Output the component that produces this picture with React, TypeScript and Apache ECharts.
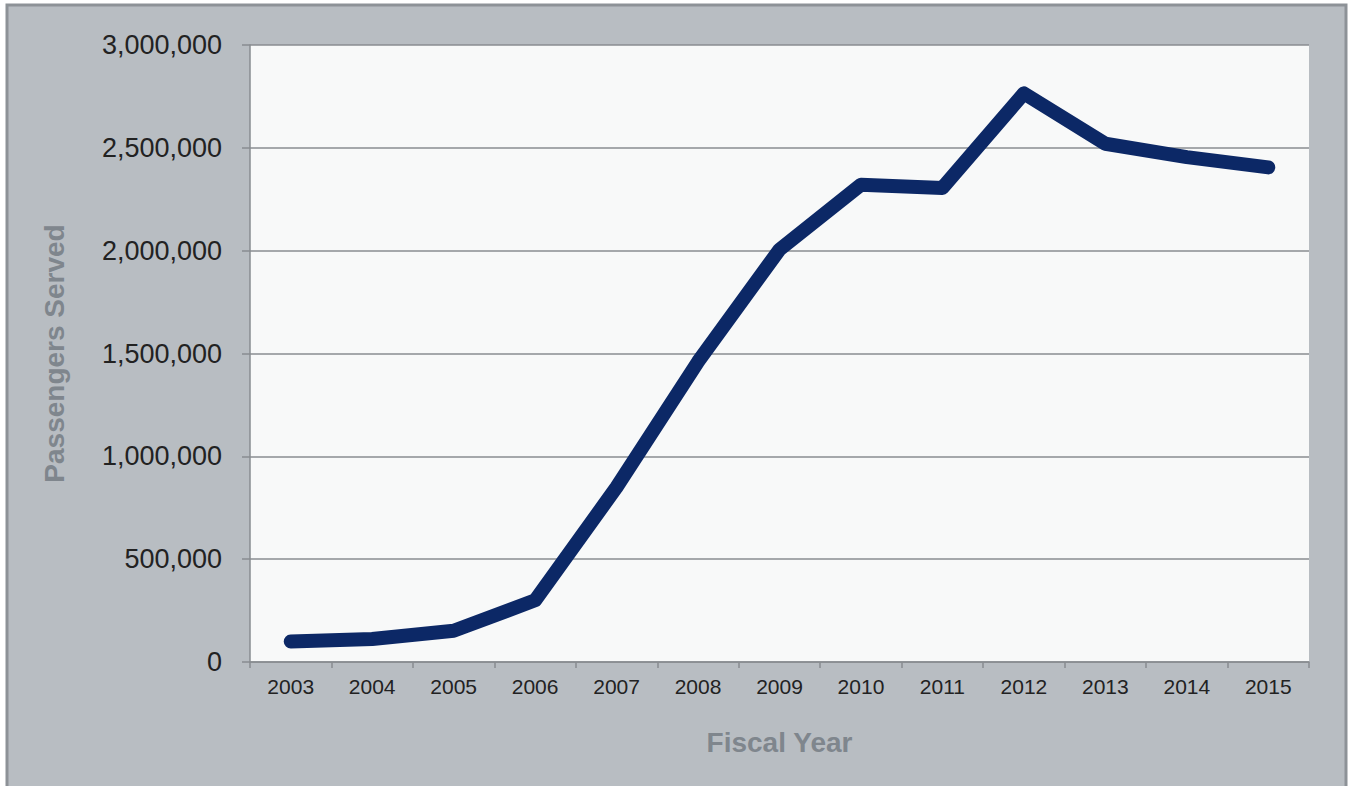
import React, { useEffect, useRef } from "react";
import * as echarts from "echarts";

const years = ["2003", "2004", "2005", "2006", "2007", "2008", "2009", "2010", "2011", "2012", "2013", "2014", "2015"];
const passengers = [100000, 112000, 152000, 300000, 850000, 1460000, 2005000, 2320000, 2305000, 2765000, 2520000, 2455000, 2405000];
const yTicks = { min: 0, max: 3000000, interval: 500000 };

const FONT = "'Liberation Sans', Arial, sans-serif";

export default function App() {
  const ref = useRef<HTMLDivElement>(null);
  useEffect(() => {
    if (!ref.current) return;
    const chart = echarts.init(ref.current, null, { renderer: "svg" });
    chart.setOption({
      animation: false,
      backgroundColor: "#ffffff",
      textStyle: { fontFamily: FONT },
      graphic: [
        {
          type: "rect",
          z: -10,
          silent: true,
          shape: { x: 7, y: 5, width: 1339, height: 800 },
          style: { fill: "#b8bdc2", stroke: "#8d9297", lineWidth: 3 },
        },
      ],
      grid: {
        left: 250,
        right: 44,
        top: 45,
        bottom: 124,
        show: true,
        backgroundColor: "#f8f9f9",
        borderWidth: 0,
      },
      xAxis: {
        type: "category",
        data: years,
        boundaryGap: true,
        name: "Fiscal Year",
        nameLocation: "middle",
        nameGap: 66,
        nameTextStyle: { fontSize: 28, fontWeight: "bold", color: "#7f868d", fontFamily: FONT },
        axisLine: { show: true, lineStyle: { color: "#888c90", width: 1.5 } },
        axisTick: { show: true, length: 6, alignWithLabel: false, lineStyle: { color: "#888c90", width: 1.5 } },
        axisLabel: { fontSize: 21, color: "#222222", margin: 14, fontFamily: FONT },
        splitLine: { show: false },
      },
      yAxis: {
        type: "value",
        min: yTicks.min,
        max: yTicks.max,
        interval: yTicks.interval,
        name: "Passengers Served",
        nameLocation: "middle",
        nameGap: 182,
        nameTextStyle: { fontSize: 28, fontWeight: "bold", color: "#7f868d", fontFamily: FONT },
        axisLine: { show: true, lineStyle: { color: "#888c90", width: 1.5 } },
        axisTick: { show: true, length: 8, lineStyle: { color: "#888c90", width: 1.5 } },
        axisLabel: {
          fontSize: 27,
          color: "#222222",
          margin: 28,
          fontFamily: FONT,
          formatter: (v: number) => v.toLocaleString("en-US"),
        },
        splitLine: { show: true, lineStyle: { color: "#8a8d90", width: 1.5 } },
      },
      series: [
        {
          type: "line",
          data: passengers,
          symbol: "none",
          lineStyle: { color: "#0c2866", width: 14, cap: "round", join: "round" },
        },
      ],
    });
    return () => chart.dispose();
  }, []);
  return (
    <div
      ref={ref}
      style={{ position: "fixed", left: 0, top: 0, width: 1353, height: 786 }}
    />
  );
}
